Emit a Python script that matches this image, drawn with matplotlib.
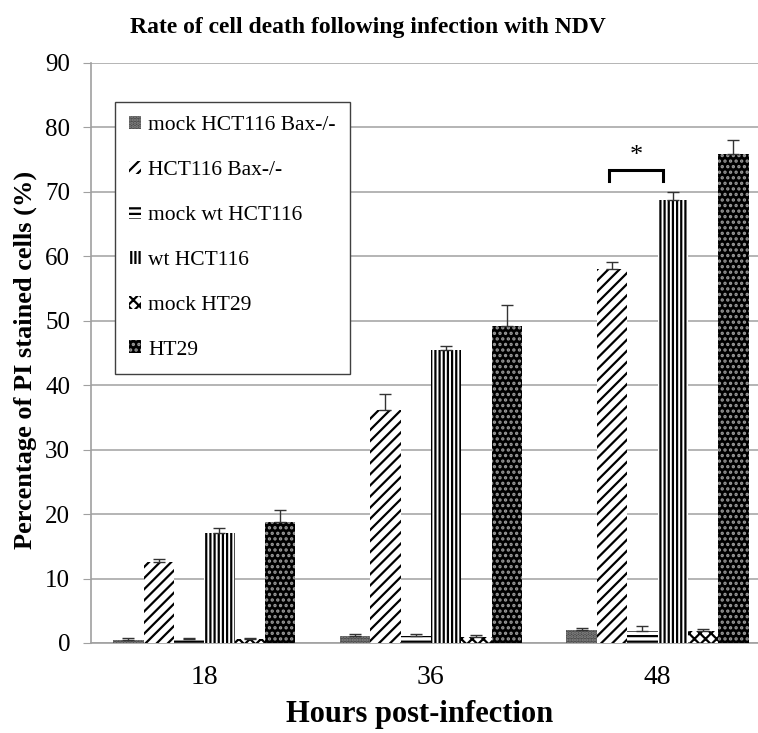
import numpy as np
import matplotlib
matplotlib.use('Agg')
import matplotlib.pyplot as plt

plt.rcParams['font.family'] = ['Liberation Serif', 'DejaVu Serif']
plt.rcParams['hatch.linewidth'] = 1.6

# data
hours = ['18', '36', '48']
series = ['mock HCT116 Bax-/-', 'HCT116 Bax-/-', 'mock wt HCT116',
          'wt HCT116', 'mock HT29', 'HT29']
values = [
    [0.5, 1.1, 2.0],
    [12.6, 36.2, 58.0],
    [0.6, 1.1, 1.8],
    [17.1, 45.4, 68.7],
    [0.6, 1.0, 1.8],
    [18.8, 49.2, 75.9],
]
errors = [
    [0.2, 0.3, 0.4],
    [0.5, 2.4, 1.1],
    [0.2, 0.3, 0.8],
    [0.7, 0.7, 1.3],
    [0.2, 0.2, 0.3],
    [1.8, 3.3, 2.2],
]

# bar styles: facecolor, hatch colour, hatch
styles = [
    ('#4a4a4a', '#8a8a8a', '.....'),
    ('white', 'black', '///'),
    ('white', 'black', '---'),
    ('white', 'black', '||||'),
    ('white', 'black', 'xxx'),
    ('black', '#9a9a9a', '...'),
]

fig = plt.figure(figsize=(7.58, 7.33), dpi=100)
ax = fig.add_axes([0.12, 0.1228, 0.897, 0.7913])

x = np.arange(len(hours))
w = 0.134
for i, name in enumerate(series):
    pos = x + (i - 2.5) * w
    fc, hc, hatch = styles[i]
    ax.bar(pos, values[i], w, color=fc, edgecolor=hc, hatch=hatch,
           linewidth=0, label=name, zorder=3)
    ax.errorbar(pos, values[i], yerr=[np.zeros(3), errors[i]], fmt='none',
                ecolor='#333333', elinewidth=1, capsize=4, capthick=1, zorder=4)

# significance bracket between HCT116 Bax-/- and wt HCT116 at 48 h
x1 = x[2] + (1 - 2.5) * w - 0.012
x2 = x[2] + (3 - 2.5) * w - 0.045
ax.plot([x1, x1, x2, x2], [71.7, 73.4, 73.4, 71.7], color='black', lw=2.2,
        zorder=5, solid_joinstyle='miter')
ax.text((x1 + x2) / 2, 75.6, '*', ha='center', va='center', fontsize=19)

ax.set_xlim(-0.5, 2.5)
ax.set_ylim(0, 90)
ax.set_yticks(range(0, 91, 10))
ax.set_xticks(x)
ax.set_xticklabels(hours)
ax.tick_params(axis='x', length=0, labelsize=20, pad=16)
ax.tick_params(axis='y', length=6, color='#a0a0a0', labelsize=18, pad=9)
ax.yaxis.grid(True, color='#a8a8a8', lw=1.2, zorder=0)
ax.set_axisbelow(True)
for s in ['top', 'right']:
    ax.spines[s].set_visible(False)
ax.spines['left'].set_color('#a0a0a0')
ax.spines['bottom'].set_color('#a0a0a0')
ax.spines['left'].set_linewidth(1.2)
ax.spines['bottom'].set_linewidth(1.2)

ax.set_xlabel('Hours post-infection', fontsize=22, fontweight='bold')
ax.xaxis.set_label_coords(0.484, -0.098)
ax.set_ylabel('Percentage of PI stained cells (%)', fontsize=19,
              fontweight='bold')
ax.yaxis.set_label_coords(-0.079, 0.488)
fig.text(0.485, 0.962, 'Rate of cell death following infection with NDV',
         ha='center', va='center', fontsize=17, fontweight='bold')

leg = ax.legend(loc='upper left', bbox_to_anchor=(0.035, 0.933), fontsize=15.5,
                handlelength=0.55, handleheight=0.55, handletextpad=0.35,
                labelspacing=1.2, borderpad=0.65, frameon=True, fancybox=False,
                edgecolor='#404040', framealpha=1, borderaxespad=0)
leg.get_frame().set_linewidth(1.0)
leg.set_zorder(10)

fig.savefig('out.png', dpi=100)
